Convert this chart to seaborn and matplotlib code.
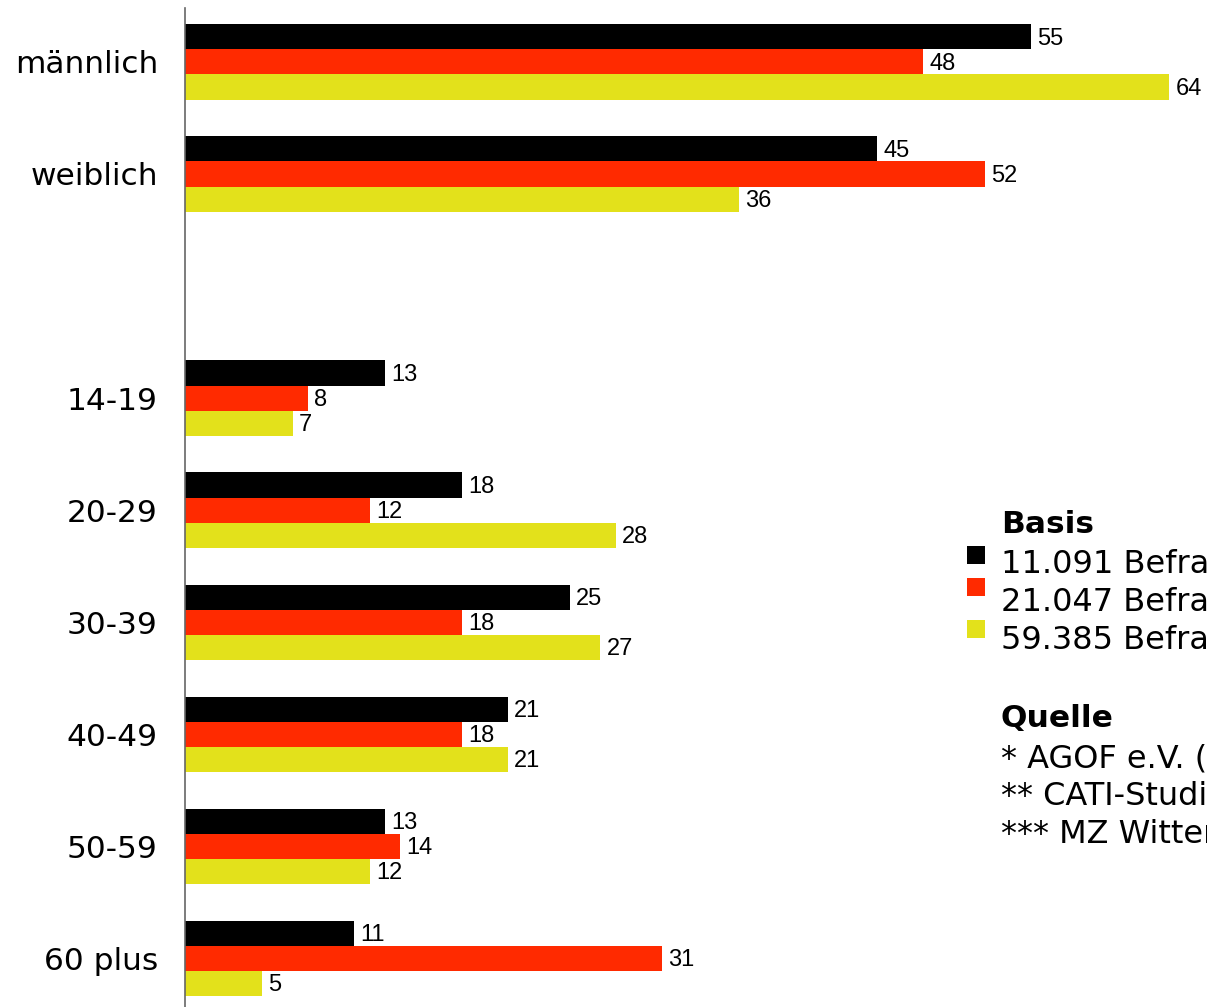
import matplotlib
matplotlib.use("Agg")
import matplotlib.pyplot as plt
from matplotlib.patches import Rectangle
import seaborn as sns
import pandas as pd

# ---- data ----
categories = ["männlich", "weiblich", "14-19", "20-29", "30-39", "40-49", "50-59", "60 plus"]
axis_order = ["männlich", "weiblich", " ", "14-19", "20-29", "30-39", "40-49", "50-59", "60 plus"]
series = ["11.091 Befragte*", "21.047 Befragte**", "59.385 Befragte***"]
agof = [55, 45, 13, 18, 25, 21, 13, 11]
cati = [48, 52, 8, 12, 18, 18, 14, 31]
mz = [64, 36, 7, 28, 27, 21, 12, 5]
colors = ["#000000", "#ff2a00", "#e3e11b"]
legend_title = "Basis"
source_title = "Quelle"
sources = ["* AGOF e.V. (internet facts)", "** CATI-Studie (Telefonbefragung)", "*** MZ Witten (Online-Befragung)"]

rows = []
for name, vals in zip(series, [agof, cati, mz]):
    for cat, v in zip(categories, vals):
        rows.append({"Kategorie": cat, "Wert": v, "Basis": name})
df = pd.DataFrame(rows)

W, H = 1207, 1007
fig = plt.figure(figsize=(W / 100, H / 100), dpi=100)
ax = fig.add_axes([185 / W, 0, 1022 / W, 999 / H])

sns.barplot(data=df, y="Kategorie", x="Wert", hue="Basis", order=axis_order,
            hue_order=series, palette=colors, width=0.67, orient="h",
            saturation=1, errorbar=None, legend=False, ax=ax)

for c in ax.containers:
    anns = ax.bar_label(c, padding=4.5, fontsize=17, family="Liberation Sans", fmt="%g")
    for a in anns:
        a.xyann = (4.5, -1.2)

ax.set_ylim(8.437, -0.482)
ax.set_xlim(0, 1022 / 15.38)
for s in ["top", "right", "bottom"]:
    ax.spines[s].set_visible(False)
ax.spines["left"].set_color("#666666")
ax.spines["left"].set_linewidth(1.2)
ax.set_xticks([])
ax.set_xlabel("")
ax.set_ylabel("")
ax.tick_params(axis="y", length=0, pad=19.5, labelsize=22.5)
for t in ax.get_yticklabels():
    t.set_family("DejaVu Sans")

def fx(x):
    return x / W

def fy(y):
    return 1 - y / H

fig.text(fx(1001), fy(533), legend_title, fontsize=22.5, fontweight="bold", va="baseline", ha="left")
label_baselines = [573, 611, 649]
square_tops = [546, 578, 620]
for name, col, yb, yt in zip(series, colors, label_baselines, square_tops):
    fig.text(fx(1001), fy(yb), name, fontsize=23, va="baseline", ha="left")
    fig.add_artist(Rectangle((fx(967), fy(yt + 18)), 18 / W, 18 / H,
                             transform=fig.transFigure, color=col, lw=0))

fig.text(fx(1001), fy(727), source_title, fontsize=22.5, fontweight="bold", va="baseline", ha="left")
for s, yb in zip(sources, [767, 805, 843]):
    fig.text(fx(1001), fy(yb), s, fontsize=23, va="baseline", ha="left")

fig.savefig("out.png", dpi=100)
